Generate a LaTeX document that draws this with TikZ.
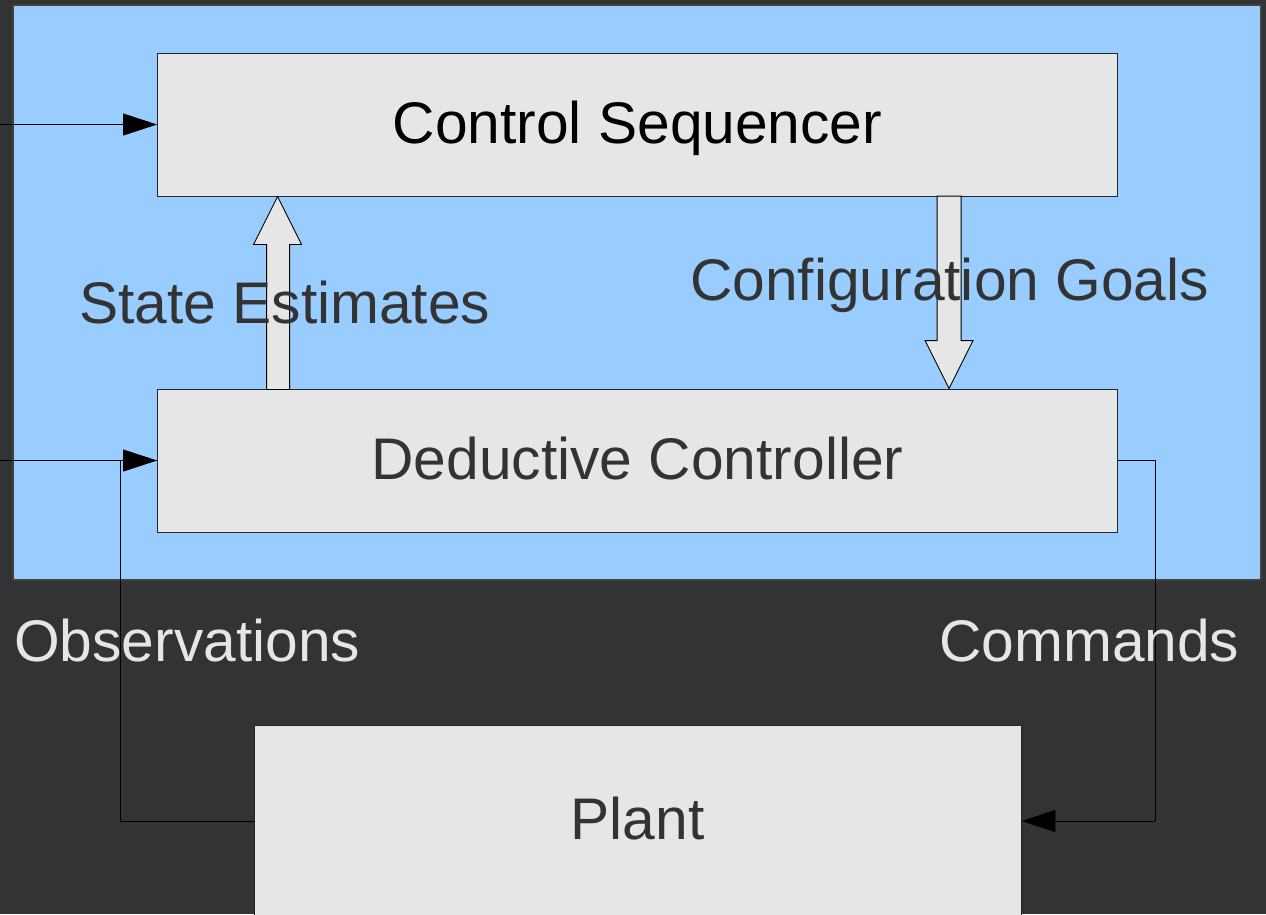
\documentclass[tikz,border=0pt]{standalone}
\usepackage{fontspec}
\setmainfont{Liberation Sans}
\usetikzlibrary{calc,arrows.meta}
\definecolor{bgdark}{HTML}{333333}
\definecolor{skyblue}{HTML}{99CCFF}
\definecolor{boxgrey}{HTML}{E6E6E6}
\definecolor{textdark}{HTML}{333333}
\begin{document}
\begin{tikzpicture}[x=1pt,y=-1pt,
  box/.style={draw=black!85, line width=0.9pt, fill=boxgrey, inner sep=0pt,
    minimum width=960pt, minimum height=143pt,
    font=\fontsize{58.7pt}{61pt}\selectfont, text height=41pt, text depth=4pt},
  lbl/.style={anchor=base west, inner sep=0pt, font=\fontsize{58.7pt}{61pt}\selectfont},
  arr/.style={draw=black, line width=0.9pt, -{Triangle[length=34pt,width=22pt]}},
  wire/.style={draw=black, line width=0.9pt},
  blockarrow/.style={draw=black, line width=0.9pt, fill=boxgrey, line join=miter}]
  % canvas and controller panel
  \fill[bgdark] (0,0) rectangle (1266,914);
  \useasboundingbox (0,0) rectangle (1266,914);
  \draw[fill=skyblue, draw=black!75, line width=1.3pt] (13,5) rectangle (1261,580);

  % blocks
  \node[box, text=black] (cs) at (637.5,124.5) {Control Sequencer};
  \node[box, text=textdark] (dc) at (637.5,460.5) {Deductive Controller};
  \node[box, text=textdark, minimum width=767pt, minimum height=192pt] (plant) at (637.5,821) {Plant};

  % external inputs
  \coordinate (inA) at (0,124.5);
  \coordinate (inB) at (0,460.5);
  \draw[arr] (inA) -- (cs.west);
  \draw[arr] (inB) -- (dc.west);

  % feedback loop through the plant
  \coordinate (obsTurn) at (120,821);
  \coordinate (cmdTurn) at (1155,821);
  \draw[wire] (plant.west) -- (obsTurn) |- (dc.west);
  \draw[wire] (dc.east) -| (cmdTurn);
  \draw[arr] (cmdTurn) -- (plant.east);

  % block arrows between controller layers
  \path (cs.south west) ++(120.5,0) coordinate (seTip);
  \draw[blockarrow] (seTip) -- ++(24,48) -- ++(-12,0) -- ++(0,145) -- ++(-23,0)
    -- ++(0,-145) -- ++(-13,0) -- cycle;
  \path (dc.north west) ++(792,0) coordinate (cgTip);
  \draw[blockarrow] (cgTip) -- ++(-24,-48) -- ++(12,0) -- ++(0,-144.5) -- ++(24,0)
    -- ++(0,144.5) -- ++(12,0) -- cycle;

  % labels
  \node[lbl, text=textdark] (se) at (79,323) {State Estimates};
  \node[lbl, text=textdark] (cg) at (690,300) {Configuration Goals};
  \node[lbl, text=boxgrey] (obs) at (14,661) {Observations};
  \node[lbl, text=boxgrey] (cmd) at (939,661) {Commands};
\end{tikzpicture}
\end{document}
